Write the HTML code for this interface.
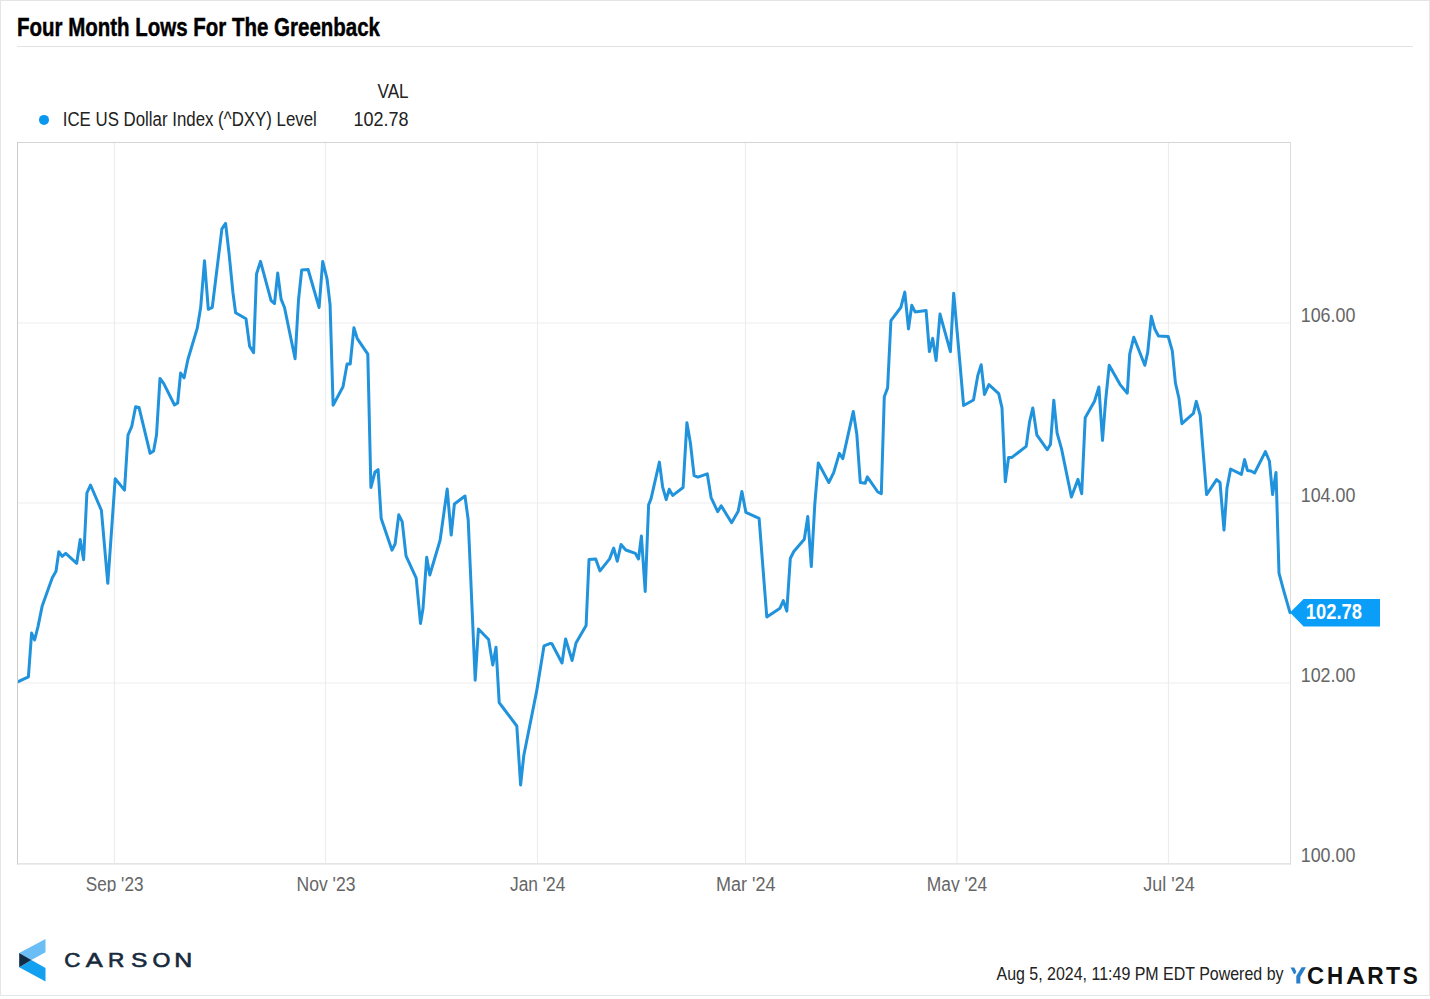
<!DOCTYPE html>
<html><head><meta charset="utf-8"><title>Four Month Lows For The Greenback</title>
<style>
html,body{margin:0;padding:0;background:#fff;}
body{width:1430px;height:999px;overflow:hidden;position:relative;font-family:"Liberation Sans", sans-serif;}
svg{position:absolute;left:0;top:0;display:block;}
</style></head><body>
<svg width="1430" height="999" viewBox="0 0 1430 999" font-family='"Liberation Sans", sans-serif'>
<defs><clipPath id="pc"><rect x="18" y="143" width="1273" height="721"/></clipPath><clipPath id="xc"><rect x="0" y="866" width="1430" height="26"/></clipPath></defs>
<rect x="0" y="0" width="1430" height="999" fill="#fff"/>
<rect x="0.5" y="0.5" width="1429" height="995" fill="none" stroke="#e5e5e5" stroke-width="1"/>
<line x1="17" y1="46.5" x2="1413" y2="46.5" stroke="#e2e2e2" stroke-width="1"/>
<circle cx="44" cy="119.9" r="5" fill="#0a97f0"/>
<g stroke="#ededed" stroke-width="1.2">
<line x1="114.5" y1="143" x2="114.5" y2="863"/>
<line x1="325.5" y1="143" x2="325.5" y2="863"/>
<line x1="537.5" y1="143" x2="537.5" y2="863"/>
<line x1="745.5" y1="143" x2="745.5" y2="863"/>
<line x1="957" y1="143" x2="957" y2="863"/>
<line x1="1168.5" y1="143" x2="1168.5" y2="863"/>
<line x1="18" y1="323" x2="1290" y2="323"/>
<line x1="18" y1="503" x2="1290" y2="503"/>
<line x1="18" y1="683" x2="1290" y2="683"/>
</g>
<line x1="17" y1="142.5" x2="1291" y2="142.5" stroke="#d4d4d4"/>
<line x1="17.5" y1="142" x2="17.5" y2="864.5" stroke="#cbcbcb"/>
<line x1="1290.5" y1="142" x2="1290.5" y2="864.5" stroke="#dcdcdc"/>
<line x1="17" y1="863.8" x2="1291" y2="863.8" stroke="#dcdcdc" stroke-width="1.3"/>
<path d="M17.8,681.8 L28.4,676.8 L31.6,633.0 L34.6,640.0 L38.0,626.6 L42.2,605.9 L47.2,592.0 L52.3,577.8 L56.0,571.3 L58.8,551.7 L62.2,556.3 L65.7,553.4 L76.7,563.3 L80.2,539.5 L83.6,559.8 L86.9,493.0 L90.5,485.0 L101.4,510.3 L107.8,583.3 L115.2,478.8 L124.5,490.1 L128.0,435.0 L131.8,426.3 L135.6,406.8 L139.0,407.4 L150.1,453.3 L153.6,451.0 L156.5,435.0 L160.0,378.4 L163.8,383.6 L174.5,405.0 L177.7,403.0 L180.6,373.1 L184.1,377.8 L187.9,359.5 L197.2,328.4 L200.7,307.3 L204.5,260.8 L208.3,309.3 L212.3,307.3 L221.9,228.9 L225.6,223.4 L229.0,253.0 L233.0,293.0 L235.6,312.7 L246.0,318.7 L249.6,346.1 L253.6,352.7 L256.5,274.0 L260.5,261.4 L271.1,300.7 L274.5,303.5 L277.7,273.1 L281.1,299.1 L284.5,307.5 L295.1,358.7 L298.5,300.0 L301.7,270.0 L308.1,269.5 L319.1,307.5 L322.7,261.4 L327.1,279.1 L330.1,305.1 L333.1,405.2 L343.0,386.7 L347.1,364.0 L350.2,364.0 L353.9,327.8 L357.3,338.6 L367.8,354.1 L370.9,487.5 L375.0,472.0 L378.1,469.6 L381.2,518.6 L392.0,550.2 L395.1,544.0 L398.8,514.8 L402.2,521.7 L406.0,555.8 L416.2,578.1 L420.5,623.4 L423.0,608.5 L426.7,557.3 L429.8,575.0 L440.1,540.3 L447.2,489.1 L451.2,535.1 L454.4,504.0 L465.0,496.0 L468.2,520.0 L475.2,680.2 L478.4,629.0 L488.6,639.5 L492.8,665.1 L496.0,647.2 L499.2,702.6 L504.0,709.0 L516.8,726.0 L520.6,785.0 L523.8,755.5 L536.6,691.4 L544.0,645.9 L550.4,643.4 L551.9,643.7 L562.0,663.0 L565.6,638.9 L572.1,660.5 L576.0,643.0 L586.1,625.5 L589.0,559.6 L595.7,558.9 L600.0,570.9 L609.6,558.9 L613.7,548.1 L617.3,561.3 L621.0,544.5 L625.8,550.0 L635.4,553.4 L638.5,558.9 L641.4,536.1 L645.2,591.4 L648.6,504.9 L651.0,498.9 L659.4,462.1 L662.6,486.8 L666.2,499.6 L669.2,489.3 L672.8,495.4 L683.1,487.5 L686.9,422.8 L690.4,443.0 L694.1,475.6 L697.9,477.2 L707.3,473.9 L711.1,497.6 L717.7,511.7 L721.2,505.8 L731.6,522.7 L738.2,511.3 L741.9,491.5 L745.9,512.4 L759.1,518.3 L766.8,617.0 L780.0,608.2 L783.3,600.6 L786.8,611.1 L790.3,558.5 L793.8,551.5 L804.3,539.3 L807.8,516.5 L811.3,566.6 L814.8,504.2 L818.3,462.9 L828.8,482.5 L833.7,472.7 L839.3,453.4 L842.8,458.7 L853.3,411.4 L856.8,434.2 L860.3,482.5 L865.2,483.2 L867.3,476.9 L877.8,492.0 L881.3,493.7 L884.3,396.7 L887.6,387.9 L890.9,320.7 L900.8,307.5 L904.8,292.1 L908.5,328.9 L911.8,305.3 L915.1,311.9 L926.1,310.4 L929.4,351.6 L932.7,338.4 L936.1,360.4 L940.0,314.1 L950.4,351.6 L953.7,293.2 L959.2,354.9 L963.6,405.5 L973.5,400.0 L977.9,375.1 L981.2,364.8 L984.5,394.5 L988.9,384.6 L998.7,393.6 L1002.0,407.9 L1005.3,481.7 L1008.6,457.4 L1011.9,457.4 L1026.2,446.4 L1029.5,422.2 L1032.8,407.9 L1036.8,434.8 L1047.2,449.7 L1050.5,444.2 L1053.8,400.2 L1057.1,433.2 L1061.5,448.6 L1071.4,497.0 L1078.0,479.4 L1081.7,493.7 L1085.2,417.8 L1094.5,401.3 L1098.9,387.0 L1102.5,440.5 L1105.6,400.9 L1109.2,365.3 L1120.1,384.6 L1127.3,393.2 L1129.7,354.1 L1133.8,337.2 L1144.8,365.3 L1147.7,352.4 L1151.3,316.3 L1154.9,329.3 L1158.5,336.0 L1168.2,336.5 L1172.3,350.9 L1175.4,382.9 L1179.0,398.5 L1181.9,423.7 L1193.4,413.4 L1196.3,401.4 L1200.2,415.3 L1206.6,494.6 L1216.6,479.6 L1220.0,482.5 L1224.0,530.1 L1227.0,488.0 L1230.6,469.0 L1241.4,474.4 L1244.6,459.6 L1247.4,470.4 L1251.0,471.0 L1254.6,473.0 L1265.4,451.6 L1269.4,461.0 L1272.6,494.5 L1276.0,472.4 L1279.0,573.1 L1283.0,588.2 L1290.0,612.6" fill="none" stroke="#2093dc" stroke-width="3" clip-path="url(#pc)" stroke-linejoin="round" stroke-linecap="round"/>
<path d="M1290,612.5 L1303.6,599 L1380,599 L1380,626.5 L1303.6,626.5 Z" fill="#0a9ef8"/>
<polygon points="19.2,953 45.5,938.9 45.5,952.2 31.4,960" fill="#6abdf5"/>
<polygon points="19.2,967.3 31.4,960 45.5,967.9 45.5,981.6" fill="#14a0f0"/>
<polygon points="19.2,953 31.4,960 19.2,967.3" fill="#0f2b45"/>
<polygon points="1290.5,967.4 1294.3,967.4 1296.2,971.4 1295.2,973.9 1293.9,974.1" fill="#2a7fcc"/>
<polygon points="1301.6,967.3 1306,967.3 1300.3,977 1300.3,983.6 1296.3,983.6 1296.3,976" fill="#2a7fcc"/>
<text x="16.99" y="36" font-size="25" font-weight="bold" fill="#000" textLength="363.01" lengthAdjust="spacingAndGlyphs" stroke="#000" stroke-width="0.45">Four Month Lows For The Greenback</text>
<text x="377.55" y="97.5" font-size="20" fill="#222" textLength="31.09" lengthAdjust="spacingAndGlyphs">VAL</text>
<text x="62.78" y="126" font-size="20" fill="#222" textLength="254.03" lengthAdjust="spacingAndGlyphs">ICE US Dollar Index (^DXY) Level</text>
<text x="353.44" y="126" font-size="20" fill="#222" textLength="55.08" lengthAdjust="spacingAndGlyphs">102.78</text>
<text x="1300.72" y="322" font-size="20" fill="#666" textLength="54.63" lengthAdjust="spacingAndGlyphs">106.00</text>
<text x="1300.72" y="502" font-size="20" fill="#666" textLength="54.63" lengthAdjust="spacingAndGlyphs">104.00</text>
<text x="1300.72" y="682" font-size="20" fill="#666" textLength="54.63" lengthAdjust="spacingAndGlyphs">102.00</text>
<text x="1300.72" y="862" font-size="20" fill="#666" textLength="54.63" lengthAdjust="spacingAndGlyphs">100.00</text>
<text x="85.83" y="891" font-size="20" fill="#666" textLength="57.64" lengthAdjust="spacingAndGlyphs" clip-path="url(#xc)">Sep '23</text>
<text x="296.52" y="891" font-size="20" fill="#666" textLength="58.89" lengthAdjust="spacingAndGlyphs" clip-path="url(#xc)">Nov '23</text>
<text x="510.00" y="891" font-size="20" fill="#666" textLength="55.44" lengthAdjust="spacingAndGlyphs" clip-path="url(#xc)">Jan '24</text>
<text x="715.96" y="891" font-size="20" fill="#666" textLength="59.49" lengthAdjust="spacingAndGlyphs" clip-path="url(#xc)">Mar '24</text>
<text x="926.74" y="891" font-size="20" fill="#666" textLength="60.47" lengthAdjust="spacingAndGlyphs" clip-path="url(#xc)">May '24</text>
<text x="1143.26" y="891" font-size="20" fill="#666" textLength="51.41" lengthAdjust="spacingAndGlyphs" clip-path="url(#xc)">Jul '24</text>
<text x="996.49" y="980.2" font-size="19" fill="#222" textLength="287.01" lengthAdjust="spacingAndGlyphs">Aug 5, 2024, 11:49 PM EDT Powered by</text>
<text x="1305.85" y="619.4" font-size="21.5" font-weight="bold" fill="#fff" textLength="56.15" lengthAdjust="spacingAndGlyphs">102.78</text>
<text x="64.21" y="967" font-size="20" fill="#172a3d" textLength="16.13" lengthAdjust="spacingAndGlyphs" stroke="#172a3d" stroke-width="0.6">C</text>
<text x="85.89" y="967" font-size="20" fill="#172a3d" textLength="16.98" lengthAdjust="spacingAndGlyphs" stroke="#172a3d" stroke-width="0.6">A</text>
<text x="108.02" y="967" font-size="20" fill="#172a3d" textLength="16.33" lengthAdjust="spacingAndGlyphs" stroke="#172a3d" stroke-width="0.6">R</text>
<text x="131.13" y="967" font-size="20" fill="#172a3d" textLength="16.38" lengthAdjust="spacingAndGlyphs" stroke="#172a3d" stroke-width="0.6">S</text>
<text x="152.45" y="967" font-size="20" fill="#172a3d" textLength="17.92" lengthAdjust="spacingAndGlyphs" stroke="#172a3d" stroke-width="0.6">O</text>
<text x="174.15" y="967" font-size="20" fill="#172a3d" textLength="18.00" lengthAdjust="spacingAndGlyphs" stroke="#172a3d" stroke-width="0.6">N</text>
<text x="1307.03" y="983.5" font-size="23" font-weight="bold" fill="#111" textLength="17.13" lengthAdjust="spacingAndGlyphs">C</text>
<text x="1327.01" y="983.5" font-size="23" font-weight="bold" fill="#111" textLength="16.17" lengthAdjust="spacingAndGlyphs">H</text>
<text x="1345.98" y="983.5" font-size="23" font-weight="bold" fill="#111" textLength="19.15" lengthAdjust="spacingAndGlyphs">A</text>
<text x="1367.15" y="983.5" font-size="23" font-weight="bold" fill="#111" textLength="16.42" lengthAdjust="spacingAndGlyphs">R</text>
<text x="1386.00" y="983.5" font-size="23" font-weight="bold" fill="#111" textLength="14.16" lengthAdjust="spacingAndGlyphs">T</text>
<text x="1402.70" y="983.5" font-size="23" font-weight="bold" fill="#111" textLength="15.02" lengthAdjust="spacingAndGlyphs">S</text>
</svg>
</body></html>
